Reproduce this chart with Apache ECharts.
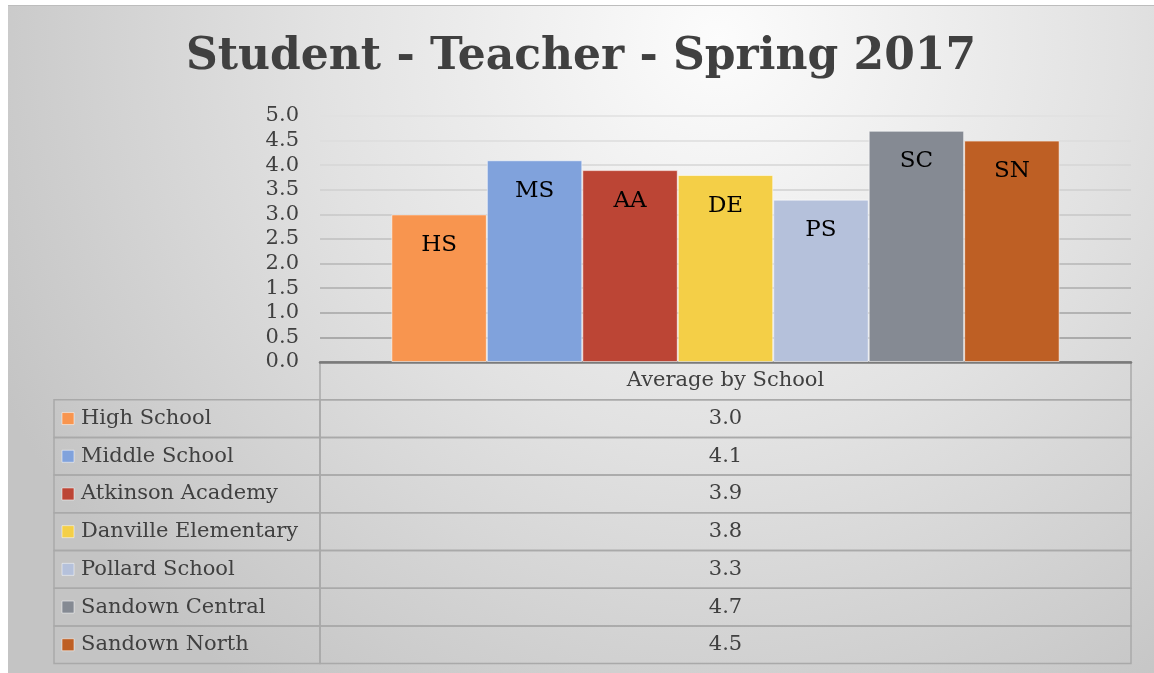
<!DOCTYPE html>
<html>
<head>
<meta charset="utf-8">
<script src="https://cdn.jsdelivr.net/npm/echarts@6/dist/echarts.min.js"></script>
<style>
  html, body { margin: 0; padding: 0; background: #fff; }
  #chartBox {
    position: absolute;
    left: 8px;
    top: 5px;
    width: 1146px;
    height: 668px;
    border-top: 1px solid #bdbdbd;
    box-sizing: border-box;
  }
</style>
</head>
<body>
<div id="chartBox"></div>
<script>
// data
const category = 'Average by School'
const schools = ['High School', 'Middle School', 'Atkinson Academy', 'Danville Elementary', 'Pollard School', 'Sandown Central', 'Sandown North']
const shortNames = ['HS', 'MS', 'AA', 'DE', 'PS', 'SC', 'SN']
const averages = [3.0, 4.1, 3.9, 3.8, 3.3, 4.7, 4.5]
const colors = ['#f8954f', '#80a2dc', '#bc4535', '#f4cf47', '#b5c1db', '#858a93', '#be5f24']

const serif = '"DejaVu Serif", "Liberation Serif", serif'
const W = 1146
const H = 667
// table layout (container px)
const tLeft = 46
const tMid = 312
const tRight = 1123
const tTop = 356
const rowH = 37.7

// grid lines get darker towards the bottom
const splitColors = ['#8f8f8f', '#9a9a9a', '#a4a4a4', '#adadad', '#b6b6b6', '#bfbfbf', '#c7c7c7', '#cfcfcf', '#d6d6d6', '#dcdcdc', '#e0e0e0']

function buildTable () {
  let els = []
  let lineStyle = { stroke: '#a9a9a9', lineWidth: 1.5, fill: null }
  let font = '21px ' + serif
  // header cell
  els.push({ type: 'rect', shape: { x: tMid, y: tTop, width: tRight - tMid, height: rowH }, style: lineStyle, silent: true })
  els.push({
    type: 'text', x: (tMid + tRight) / 2, y: tTop + rowH / 2,
    style: { text: category, fill: '#404040', font: font, align: 'center', verticalAlign: 'middle' }
  })
  schools.forEach((name, i) => {
    let y = tTop + rowH * (i + 1)
    els.push({ type: 'rect', shape: { x: tLeft, y: y, width: tMid - tLeft, height: rowH }, style: lineStyle, silent: true })
    els.push({ type: 'rect', shape: { x: tMid, y: y, width: tRight - tMid, height: rowH }, style: lineStyle, silent: true })
    els.push({
      type: 'rect', shape: { x: tLeft + 8, y: y + rowH / 2 - 6, width: 12, height: 12 },
      style: { fill: colors[i], stroke: 'rgba(255,255,255,0.5)', lineWidth: 1 }
    })
    els.push({
      type: 'text', x: tLeft + 27, y: y + rowH / 2,
      style: { text: name, fill: '#404040', font: font, align: 'left', verticalAlign: 'middle' }
    })
    els.push({
      type: 'text', x: (tMid + tRight) / 2, y: y + rowH / 2,
      style: { text: averages[i].toFixed(1), fill: '#404040', font: font, align: 'center', verticalAlign: 'middle' }
    })
  })
  return els
}

let myChart = echarts.init(document.getElementById('chartBox'))
myChart.setOption({
  animation: false,
  backgroundColor: new echarts.graphic.RadialGradient(0.62, 0.05, 1.2, [
    { offset: 0, color: '#fcfcfc' },
    { offset: 0.5, color: '#e2e2e2' },
    { offset: 1, color: '#c4c4c4' }
  ]),
  title: {
    text: 'Student - Teacher - Spring 2017',
    left: 'center',
    top: 25,
    textStyle: {
      fontFamily: serif,
      fontWeight: 'bold',
      fontSize: 44,
      color: '#404040'
    }
  },
  grid: {
    left: 312,
    right: W - tRight,
    top: 110,
    bottom: H - tTop
  },
  xAxis: {
    type: 'category',
    data: [category],
    axisTick: { show: false },
    axisLabel: { show: false },
    axisLine: { lineStyle: { color: '#7a7a7a', width: 2.5 } }
  },
  yAxis: {
    type: 'value',
    min: 0,
    max: 5,
    interval: 0.5,
    axisLabel: {
      formatter: v => v.toFixed(1),
      fontFamily: serif,
      fontSize: 21,
      color: '#404040',
      margin: 21
    },
    splitLine: { lineStyle: { color: splitColors, width: 1.5 } }
  },
  series: schools.map((name, i) => ({
    name: name,
    type: 'bar',
    data: [averages[i]],
    barGap: '0%',
    barCategoryGap: '17.6%',
    itemStyle: { color: colors[i], borderColor: 'rgba(255,255,255,0.55)', borderWidth: 1 },
    label: {
      show: true,
      position: 'insideTop',
      distance: 19,
      formatter: shortNames[i],
      fontFamily: serif,
      fontSize: 23,
      color: '#000'
    }
  })),
  graphic: buildTable()
})
</script>
</body>
</html>
